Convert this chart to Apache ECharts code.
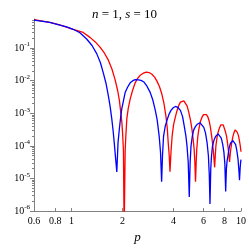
<!DOCTYPE html>
<html>
<head>
<meta charset="utf-8">
<script src="https://cdn.jsdelivr.net/npm/echarts@6/dist/echarts.min.js"></script>
<style>html,body{margin:0;padding:0;background:#fff;}#c{width:249px;height:249px;}</style>
</head>
<body>
<div id="c"></div>
<script>
const titleParts = ['n', ' = 1, ', 's', ' = 10'];
const xLabel = 'p';
const xTicks = [0.6, 0.8, 1, 2, 4, 6, 8, 10];
const yTicks = [1e-6, 1e-5, 1e-4, 1e-3, 1e-2, 1e-1];
const yMinorMultipliers = [2, 3, 4, 5, 6, 7, 8, 9];

const pBlue = [0.6, 0.743, 0.852, 0.934, 1.022, 1.12, 1.227, 1.32, 1.407, 1.48, 1.54, 1.60, 1.649, 1.69, 1.726, 1.76, 1.789, 1.82, 1.849, 1.88, 1.916, 1.95, 1.979, 2.071, 2.14, 2.217, 2.30, 2.374, 2.48, 2.57, 2.66, 2.78, 2.91, 3.02, 3.12, 3.20, 3.29, 3.35, 3.40, 3.44, 3.49, 3.57, 3.66, 3.76, 3.86, 3.98, 4.10, 4.24, 4.39, 4.52, 4.63, 4.73, 4.80, 4.88, 4.95, 5.01, 5.07, 5.16, 5.26, 5.38, 5.51, 5.62, 5.74, 5.88, 6.03, 6.17, 6.31, 6.42, 6.50, 6.56, 6.63, 6.70, 6.79, 6.93, 7.08, 7.20, 7.32, 7.48, 7.65, 7.80, 7.93, 8.03, 8.12, 8.20, 8.28, 8.38, 8.52, 8.68, 8.82, 8.96, 9.12, 9.30, 9.45, 9.60, 9.72, 9.80, 9.88, 9.95, 10];
const vBlue = [0.718, 0.61, 0.506, 0.447, 0.377, 0.295, 0.19, 0.12, 0.0676, 0.0355, 0.017, 7.9e-3, 3.44e-3, 1.58e-3, 6.9e-4, 2.8e-4, 1.11e-4, 4.0e-5, 1.58e-5, 1.26e-4, 3.47e-4, 7.9e-4, 1.38e-3, 4.33e-3, 6.3e-3, 8.6e-3, 0.0100, 0.0108, 0.0106, 0.0102, 9.3e-3, 6.9e-3, 4.37e-3, 2.5e-3, 1.23e-3, 6.3e-4, 1.95e-4, 6.3e-5, 7.9e-6, 5.0e-5, 1.95e-4, 4.0e-4, 6.2e-4, 9.3e-4, 1.23e-3, 1.48e-3, 1.62e-3, 1.51e-3, 1.23e-3, 7.9e-4, 3.9e-4, 2.0e-4, 1.0e-4, 3.2e-5, 2.7e-6, 3.2e-5, 1.0e-4, 2.0e-4, 3.1e-4, 3.9e-4, 4.6e-4, 5.0e-4, 5.1e-4, 4.7e-4, 3.7e-4, 2.5e-4, 1.23e-4, 5.0e-5, 1.26e-5, 1.66e-6, 2.0e-5, 5.0e-5, 1.0e-4, 1.51e-4, 1.95e-4, 2.24e-4, 2.34e-4, 2.14e-4, 1.74e-4, 1.12e-4, 6.3e-5, 2.8e-5, 4.0e-6, 2.0e-5, 3.5e-5, 5.0e-5, 8.9e-5, 1.23e-4, 1.38e-4, 1.45e-4, 1.32e-4, 1.1e-4, 7.1e-5, 4.0e-5, 1.78e-5, 8.9e-6, 2.0e-5, 3.2e-5, 3.8e-5];

const pRed = [0.6, 0.743, 0.852, 1.022, 1.17, 1.284, 1.38, 1.472, 1.56, 1.649, 1.73, 1.806, 1.87, 1.916, 1.979, 2.0, 2.024, 2.043, 2.071, 2.09, 2.119, 2.16, 2.217, 2.29, 2.374, 2.45, 2.54, 2.65, 2.76, 2.87, 2.98, 3.09, 3.19, 3.30, 3.41, 3.51, 3.61, 3.67, 3.72, 3.77, 3.81, 3.86, 3.92, 4.0, 4.10, 4.19, 4.29, 4.39, 4.49, 4.60, 4.70, 4.81, 4.91, 5.03, 5.14, 5.22, 5.29, 5.34, 5.39, 5.44, 5.48, 5.55, 5.63, 5.76, 5.90, 6.01, 6.12, 6.25, 6.37, 6.50, 6.61, 6.70, 6.79, 6.88, 6.99, 7.05, 7.11, 7.20, 7.30, 7.45, 7.60, 7.72, 7.85, 7.93, 8.08, 8.22, 8.32, 8.41, 8.49, 8.56, 8.62, 8.68, 8.82, 8.96, 9.10, 9.25, 9.38, 9.51, 9.65, 9.79, 9.90, 10];
const vRed = [0.752, 0.617, 0.513, 0.377, 0.302, 0.213, 0.155, 0.107, 0.0708, 0.0427, 0.0229, 0.0108, 5.0e-3, 2.45e-3, 5.5e-4, 2.5e-4, 7.0e-5, 2e-7, 7.0e-5, 2.0e-4, 6.9e-4, 1.41e-3, 2.73e-3, 5.0e-3, 8.6e-3, 0.0117, 0.0146, 0.0170, 0.0184, 0.0178, 0.0158, 0.0129, 9.7e-3, 6.6e-3, 3.9e-3, 2.0e-3, 7.8e-4, 3.5e-4, 1.23e-4, 5.0e-5, 1.6e-5, 6.3e-5, 1.95e-4, 4.5e-4, 7.8e-4, 1.2e-3, 1.74e-3, 2.2e-3, 2.45e-3, 2.4e-3, 2.2e-3, 1.66e-3, 1.1e-3, 6.3e-4, 3.1e-4, 1.58e-4, 7.9e-5, 3.2e-5, 7.9e-6, 3.2e-5, 7.9e-5, 1.78e-4, 3.1e-4, 5.6e-4, 7.8e-4, 9.1e-4, 9.8e-4, 9.1e-4, 7.8e-4, 5.6e-4, 3.5e-4, 2.1e-4, 1.23e-4, 6.3e-5, 2.2e-5, 5.0e-5, 1.0e-4, 1.66e-4, 2.45e-4, 3.5e-4, 4.4e-4, 4.7e-4, 4.4e-4, 3.9e-4, 2.8e-4, 1.95e-4, 1.26e-4, 7.9e-5, 5.0e-5, 3.2e-5, 5.0e-5, 7.1e-5, 1.26e-4, 1.95e-4, 2.6e-4, 3.1e-4, 3.0e-4, 2.6e-4, 2.1e-4, 1.45e-4, 1.0e-4, 6.6e-5];

const yMinorTicks = [];
yTicks.forEach(d => yMinorMultipliers.forEach(m => yMinorTicks.push(+(m * d).toPrecision(3))));

const SERIF = 'Liberation Serif';
function yFmt(v) {
  const e = Math.round(Math.log10(v));
  return '{b|10}{s|' + e + '}';
}
const chart = echarts.init(document.getElementById('c'), null, {renderer: 'canvas'});
chart.setOption({
  animation: false,
  backgroundColor: '#fff',
  title: {
    text: '{i|' + titleParts[0] + '}' + titleParts[1] + '{i|' + titleParts[2] + '}' + titleParts[3],
    left: 'center', top: 3,
    textStyle: {fontFamily: SERIF, fontSize: 13, fontWeight: 'normal', color: '#000',
      rich: {i: {fontFamily: SERIF, fontSize: 13, fontStyle: 'italic', color: '#000'}}}
  },
  grid: {left: 34, right: 8, top: 19, bottom: 32, containLabel: false},
  xAxis: {
    type: 'log', logBase: 10, min: 0.6, max: 10,
    name: xLabel, nameLocation: 'middle', nameGap: 14,
    nameTextStyle: {fontFamily: SERIF, fontSize: 13, fontStyle: 'italic', color: '#000'},
    axisLine: {lineStyle: {color: '#808080', width: 1}},
    axisTick: {inside: true, length: 3, lineStyle: {color: '#808080'}, customValues: xTicks},
    axisLabel: {customValues: xTicks, margin: 5, fontFamily: SERIF, fontSize: 10, color: '#000',
      formatter: v => String(+v.toPrecision(3))},
    splitLine: {show: false}, minorTick: {show: false}
  },
  yAxis: [{
    type: 'log', logBase: 10, min: 1e-6, max: 0.78,
    axisLine: {show: true, lineStyle: {color: '#808080', width: 1}},
    axisTick: {show: true, inside: false, length: 4, lineStyle: {color: '#808080'}, customValues: yTicks},
    axisLabel: {customValues: yTicks, margin: 4, formatter: yFmt, color: '#000',
      rich: {b: {fontFamily: SERIF, fontSize: 10, color: '#000'},
             s: {fontFamily: SERIF, fontSize: 7, color: '#000', verticalAlign: 'top', padding: [0, 0, 7, 0]}}},
    splitLine: {show: false}
  }, {
    type: 'log', logBase: 10, min: 1e-6, max: 0.78, position: 'left',
    axisLine: {show: false},
    axisTick: {show: true, inside: false, length: 2, lineStyle: {color: '#808080'}, customValues: yMinorTicks},
    axisLabel: {show: false},
    splitLine: {show: false}
  }],
  series: [{
    type: 'line', name: 'red', showSymbol: false, symbol: 'none', clip: true,
    data: pRed.map((p, i) => [p, vRed[i]]),
    lineStyle: {color: '#ff0000', width: 1.3}
  }, {
    type: 'line', name: 'blue', showSymbol: false, symbol: 'none', clip: true,
    data: pBlue.map((p, i) => [p, vBlue[i]]),
    lineStyle: {color: '#0000ff', width: 1.3}
  }]
});
</script>
</body>
</html>
